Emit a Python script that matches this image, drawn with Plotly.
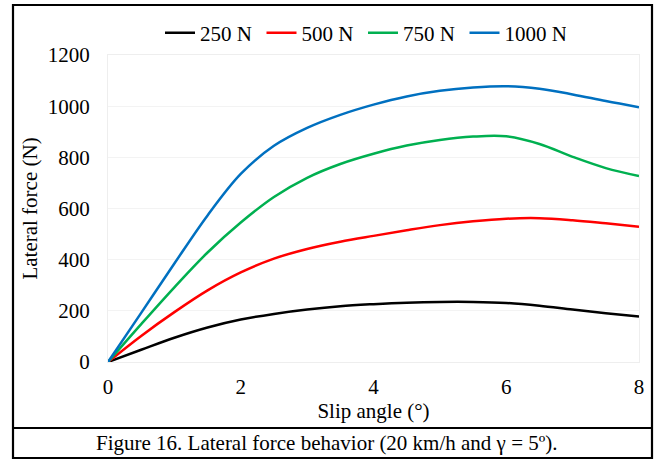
import plotly.graph_objects as go

slip_angle = [0, 0.5, 1, 1.5, 2, 2.5, 3, 3.5, 4, 4.5, 5, 5.5, 6, 6.5, 7, 7.5, 8]
force_250 = [0, 48, 95, 135, 166, 188, 205, 218, 226, 232, 235, 235, 231, 220, 205, 191, 178]
force_500 = [0, 102, 195, 280, 350, 404, 442, 470, 493, 515, 535, 550, 560, 562, 554, 542, 529]
force_750 = [0, 148, 292, 428, 545, 645, 720, 774, 814, 846, 868, 881, 882, 852, 802, 758, 727]
force_1000 = [0, 192, 385, 573, 735, 845, 915, 966, 1006, 1038, 1060, 1073, 1078, 1068, 1046, 1020, 996]

series_names = ["250 N", "500 N", "750 N", "1000 N"]
series_values = [force_250, force_500, force_750, force_1000]
series_colors = ["#000000", "#FF0000", "#00B050", "#0070C0"]

x_title = "Slip angle (°)"
y_title = "Lateral force (N)"
caption = "Figure 16. Lateral force behavior (20 km/h and γ = 5º)."

FONT = "Liberation Serif, Times New Roman, serif"
FS = 21

fig = go.Figure()
for name, vals, col in zip(series_names, series_values, series_colors):
    fig.add_trace(go.Scatter(
        x=slip_angle, y=vals, name=name, mode="lines",
        line=dict(color=col, width=2.5, shape="spline", smoothing=1.0),
    ))

# pixel geometry of the plot area
L, R, T, B = 108, 639, 55, 362
W, H = R - L, B - T
def px(xp):
    return (xp - L) / W
def py(yp):
    return (B - yp) / H

fig.update_layout(
    width=657, height=460,
    margin=dict(l=L, r=657 - R, t=T, b=460 - B, pad=0),
    paper_bgcolor="white", plot_bgcolor="white",
    font=dict(family=FONT, size=FS, color="black"),
    showlegend=True,
    legend=dict(
        orientation="h", x=px(160), xanchor="left", y=py(33), yanchor="middle",
        font=dict(family=FONT, size=FS, color="black"),
        bgcolor="rgba(0,0,0,0)", borderwidth=0,
        entrywidth=56.5, entrywidthmode="pixels", tracegroupgap=0,
    ),
    xaxis=dict(
        range=[0, 8], dtick=2, tick0=0,
        showgrid=False, zeroline=False,
        showline=True, linecolor="#eeeeee", linewidth=1, mirror=True,
        ticks="", ticklabelstandoff=6,
        tickfont=dict(family=FONT, size=FS, color="black"),
        title=dict(text=x_title, font=dict(family=FONT, size=FS, color="black"), standoff=0),
    ),
    yaxis=dict(
        range=[0, 1200], dtick=200, tick0=0,
        showgrid=True, gridcolor="#f3f3f3", gridwidth=1,
        zeroline=False,
        showline=True, linecolor="#eeeeee", linewidth=1, mirror=True,
        ticks="", ticklabelstandoff=13,
        tickfont=dict(family=FONT, size=FS, color="black"),
        title=dict(text=y_title, font=dict(family=FONT, size=FS, color="black"), standoff=4),
    ),
)

# outer frame and caption divider
fig.add_shape(type="rect", xref="paper", yref="paper",
              x0=px(13), x1=px(652), y0=py(458), y1=py(5),
              line=dict(color="black", width=2.2), fillcolor="rgba(0,0,0,0)", layer="above")
fig.add_shape(type="line", xref="paper", yref="paper",
              x0=px(13), x1=px(652), y0=py(428), y1=py(428),
              line=dict(color="black", width=2.2), layer="above")
fig.add_annotation(text=caption, xref="paper", yref="paper",
                   x=px(327), y=py(443), xanchor="center", yanchor="middle",
                   showarrow=False, font=dict(family=FONT, size=FS, color="black"))

fig.write_html("out.html", config={"displayModeBar": False})

# remove the browser's default page margin so the figure sits at (0, 0)
with open("out.html", "r", encoding="utf-8") as f:
    html = f.read()
html = html.replace("<body>", '<body style="margin:0;padding:0;overflow:hidden">', 1)
with open("out.html", "w", encoding="utf-8") as f:
    f.write(html)
